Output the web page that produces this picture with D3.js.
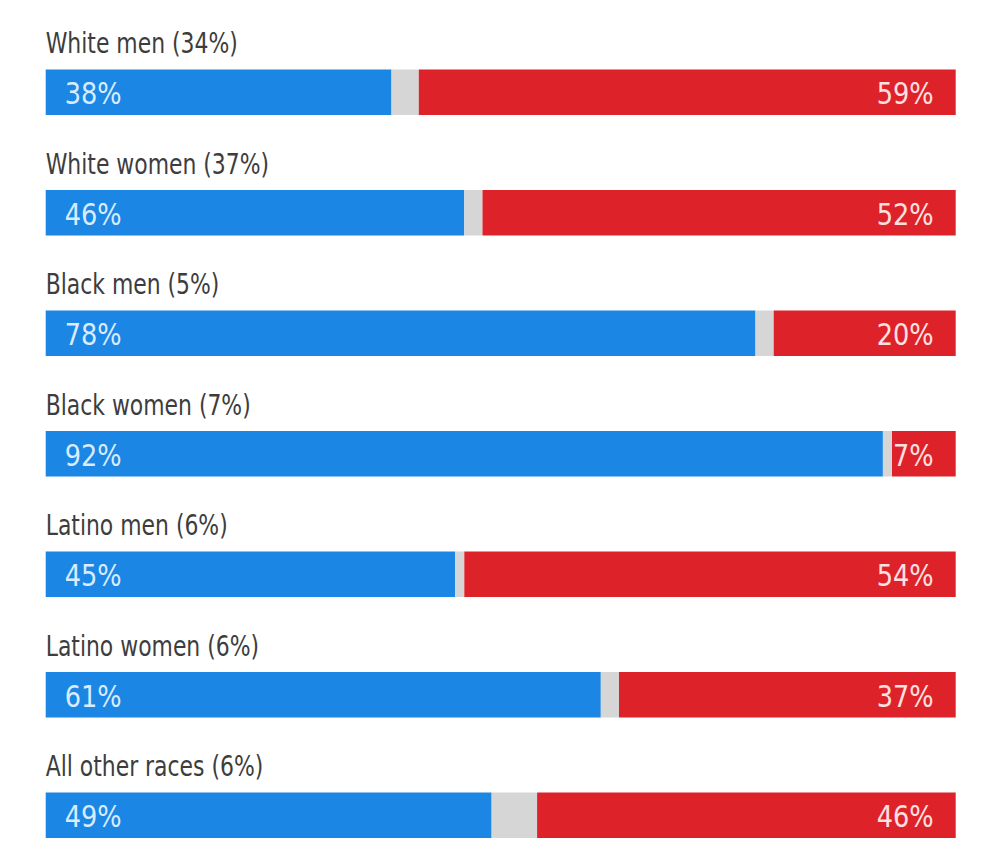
<!DOCTYPE html>
<html>
<head>
<meta charset="utf-8">
<script src="https://cdn.jsdelivr.net/npm/d3@7"></script>
<style>
  html, body { margin: 0; padding: 0; background: #fff; }
  svg { display: block; }
  .lbl { font-family: "DejaVu Sans", sans-serif; font-stretch: condensed; }
</style>
</head>
<body>
<svg id="chart" width="1000" height="865"></svg>
<script>
const categories = ["White men (34%)", "White women (37%)", "Black men (5%)", "Black women (7%)", "Latino men (6%)", "Latino women (6%)", "All other races (6%)"];
const demValues = [38, 46, 78, 92, 45, 61, 49];
const repValues = [59, 52, 20, 7, 54, 37, 46];

const data = categories.map((c, i) => ({
  cat: c, dem: demValues[i], other: 100 - demValues[i] - repValues[i], rep: repValues[i]
}));

const svg = d3.select("#chart");
const x = d3.scaleLinear().domain([0, 100]).range([45.7, 955.7]);
const y = d3.scaleBand().domain(categories).range([31, 31 + 120.5 * 7]).paddingInner(0).paddingOuter(0);
const barTop = 38.5, barH = 45.5;

const stack = d3.stack().keys(["dem", "other", "rep"]);
const series = stack(data);
const colors = { dem: "#1b86e4", other: "#d6d6d6", rep: "#dd2229" };

svg.selectAll("g.series").data(series).join("g")
  .attr("class", "series")
  .attr("fill", d => colors[d.key])
  .selectAll("rect").data(d => d).join("rect")
  .attr("x", d => x(d[0]))
  .attr("width", d => x(d[1]) - x(d[0]))
  .attr("y", d => y(d.data.cat) + barTop)
  .attr("height", barH);

const g = svg.selectAll("g.row").data(data).join("g")
  .attr("class", "row")
  .attr("transform", d => `translate(0,${y(d.cat)})`);

g.append("text").attr("class", "lbl")
  .attr("transform", `translate(${x(0)},22) scale(0.84,1)`)
  .attr("fill", "#3d3d3d")
  .style("font-size", "29px")
  .text(d => d.cat);

g.append("text").attr("class", "lbl")
  .attr("transform", `translate(${x(0) + 19},${barTop + 34.5}) scale(0.95,1)`)
  .attr("fill", "#d9ecff")
  .style("font-size", "30px")
  .text(d => d.dem + "%");

g.append("text").attr("class", "lbl")
  .attr("transform", `translate(${x(100) - 22},${barTop + 34.5}) scale(0.95,1)`)
  .attr("text-anchor", "end")
  .attr("fill", "#ffe0e0")
  .style("font-size", "30px")
  .text(d => d.rep + "%");
</script>
</body>
</html>
